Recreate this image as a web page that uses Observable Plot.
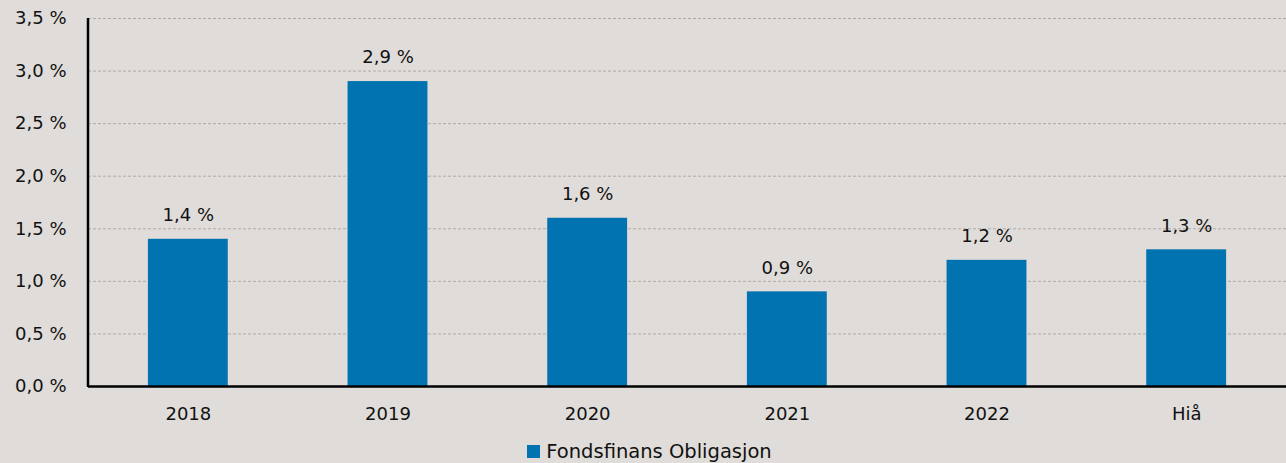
<!DOCTYPE html>
<html>
<head>
<meta charset="utf-8">
<script src="https://cdn.jsdelivr.net/npm/d3@7"></script>
<script src="https://cdn.jsdelivr.net/npm/@observablehq/plot@0.6"></script>
<style>
  html, body { margin: 0; padding: 0; background: #e0dcd9; }
  body { width: 1286px; height: 463px; overflow: hidden; font-family: "DejaVu Sans", sans-serif; }
  #legend { display: flex; justify-content: center; align-items: center; height: 32px; font-size: 19.5px; color: #111; margin-left: 13px; }
  #legend .sw { width: 13px; height: 13px; background: #0073b0; margin-right: 6px; }
</style>
</head>
<body>
<div id="chart"></div>
<div id="legend"><span class="sw"></span><span>Fondsfinans Obligasjon</span></div>
<script>
const categories = ["2018", "2019", "2020", "2021", "2022", "Hiå"];
const values = [1.4, 2.9, 1.6, 0.9, 1.2, 1.3];
const yTicks = [0, 0.5, 1, 1.5, 2, 2.5, 3, 3.5];
const seriesName = "Fondsfinans Obligasjon";

const data = categories.map((c, i) => ({cat: c, value: values[i]}));
const fmt = v => v.toFixed(1).replace(".", ",") + " %";

const chart = Plot.plot({
  width: 1286,
  height: 435,
  marginLeft: 88,
  marginRight: 0,
  marginTop: 18,
  marginBottom: 49,
  style: {background: "#e0dcd9", fontFamily: "'DejaVu Sans', sans-serif", fontSize: "18px", color: "#111"},
  x: {domain: categories, paddingInner: 0.6, paddingOuter: 0.3, round: false, label: null},
  y: {domain: [0, 3.5], label: null},
  marks: [
    Plot.gridY(yTicks.filter(d => d > 0), {stroke: "#aeaaa7", strokeOpacity: 1, strokeDasharray: "3,2", strokeWidth: 1}),
    Plot.barY(data, {x: "cat", y: "value", fill: "#0073b0"}),
    Plot.text(data, {x: "cat", y: "value", text: d => fmt(d.value), dy: -24, fontSize: 18, fill: "#111"}),
    Plot.axisY({ticks: yTicks, tickFormat: fmt, tickSize: 0, tickPadding: 22, fontSize: 18}),
    Plot.axisX({tickSize: 0, tickPadding: 21, fontSize: 18}),
    Plot.ruleY([0], {stroke: "#000", strokeWidth: 2.5})
  ]
});
document.getElementById("chart").appendChild(chart);

// y-axis line at left edge
const svg = d3.select(chart);
svg.append("line")
  .attr("x1", 88).attr("x2", 88)
  .attr("y1", 18).attr("y2", 387)
  .attr("stroke", "#000").attr("stroke-width", 2.5);
</script>
</body>
</html>
